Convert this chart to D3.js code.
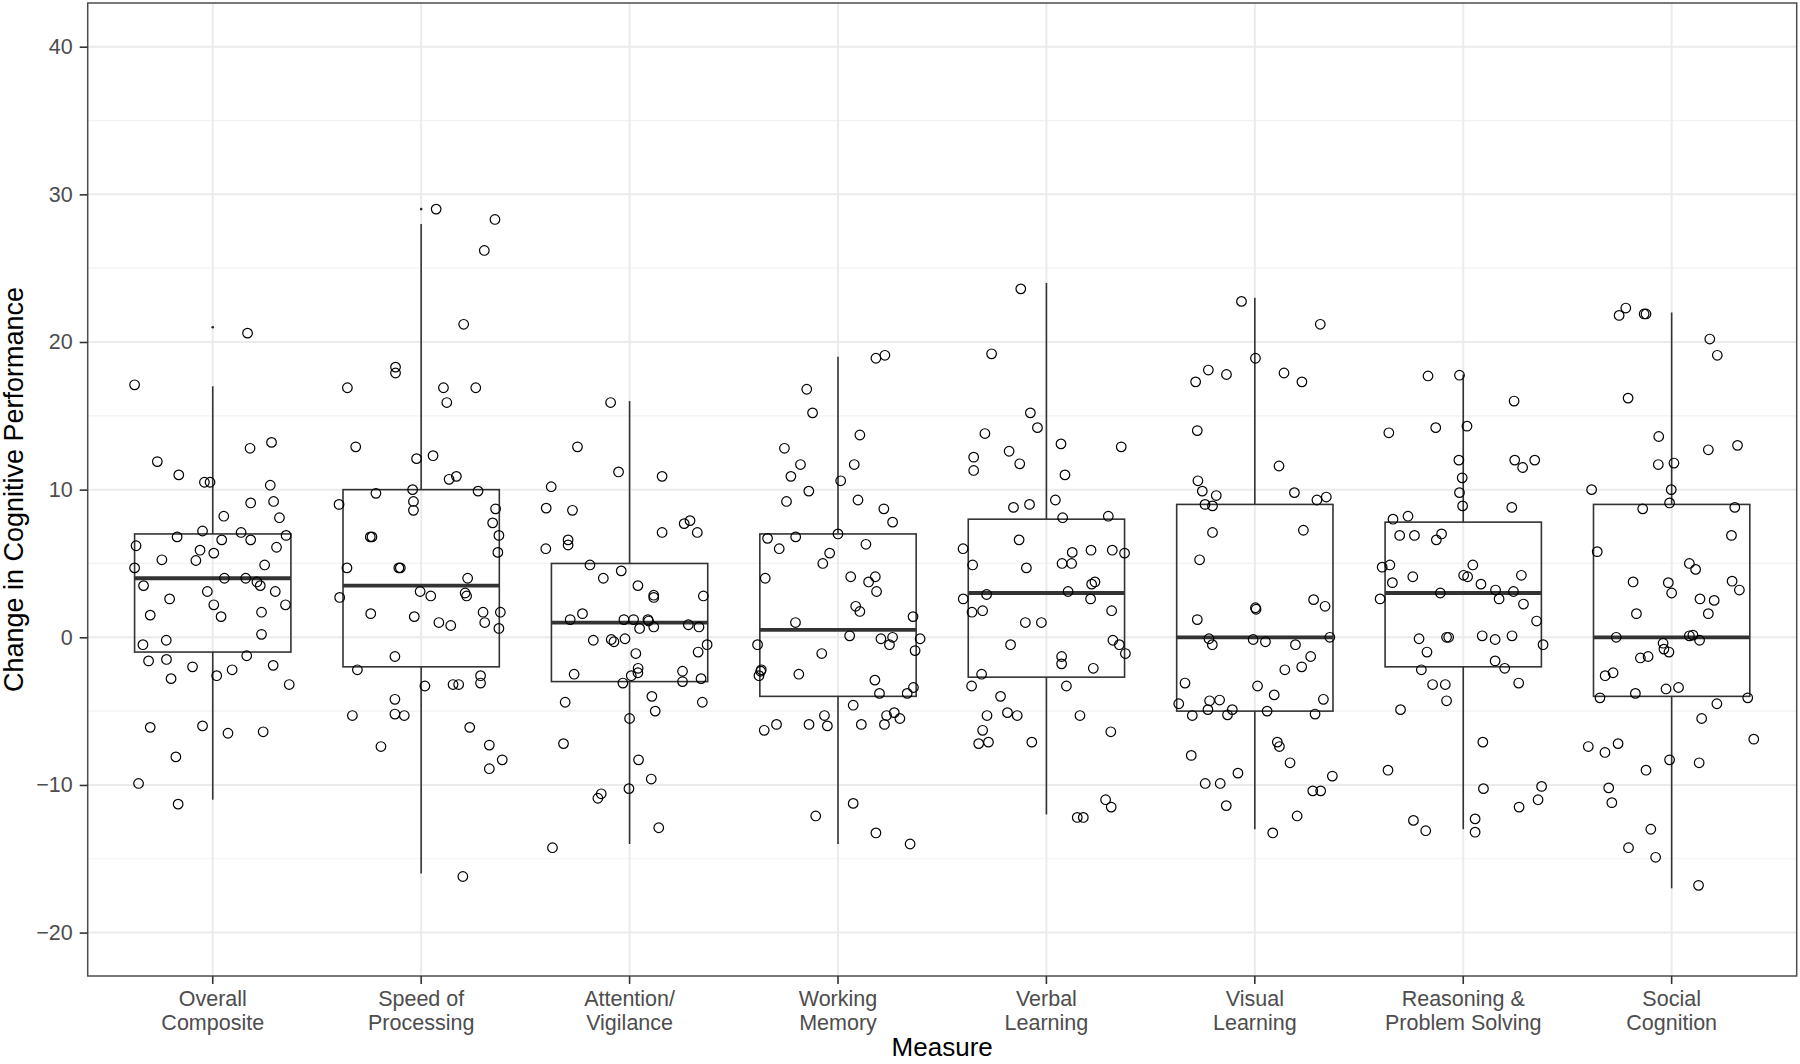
<!DOCTYPE html>
<html>
<head>
<meta charset="utf-8">
<script src="https://cdn.jsdelivr.net/npm/d3@7"></script>
<style>
  html, body { margin: 0; padding: 0; background: #ffffff; }
  svg { display: block; }
</style>
</head>
<body>
<svg id="chart" width="1800" height="1064"></svg>
<script>
// ---------- Data ----------
const categories = ["Overall Composite", "Speed of Processing", "Attention/Vigilance", "Working Memory",
  "Verbal Learning", "Visual Learning", "Reasoning & Problem Solving", "Social Cognition"];
const tickLabels = [["Overall", "Composite"], ["Speed of", "Processing"], ["Attention/", "Vigilance"],
  ["Working", "Memory"], ["Verbal", "Learning"], ["Visual", "Learning"],
  ["Reasoning &", "Problem Solving"], ["Social", "Cognition"]];
const yTicks = [-20, -10, 0, 10, 20, 30, 40];
const yMinor = [-15, -5, 5, 15, 25, 35];

// boxplot statistics
const q1 = [-1, -2, -3, -4, -2.7, -5, -2, -4];
const medians = [4, 3.5, 1, 0.5, 3, 0, 3, 0];
const q3 = [7, 10, 5, 7, 8, 9, 7.8, 9];
const whiskerLow = [-11, -16, -14, -14, -12, -13, -13, -17];
const whiskerHigh = [17, 28, 16, 19, 24, 23, 17.8, 22];
const outliers = [[21], [29], [], [], [], [], [], []];

// jittered points: [horizontal jitter (fraction of category step), value]
const overallComposite = [[0.167,20.6],[-0.375,17.1],[0.179,12.8],[0.282,13.2],[-0.266,11.9],[-0.163,11.0],[-0.04,10.5],[-0.013,10.5],[0.276,10.3],[0.182,9.1],[0.292,9.2],[0.053,8.2],[0.32,8.1],[-0.171,6.8],[-0.049,7.2],[0.043,6.6],[0.136,7.1],[0.182,6.6],[0.352,6.9],[-0.368,6.2],[-0.061,5.9],[0.005,5.7],[0.306,6.1],[-0.244,5.25],[-0.081,5.2],[-0.375,4.7],[0.249,4.9],[-0.332,3.5],[0.056,4.0],[0.158,4.0],[0.212,3.75],[0.228,3.5],[-0.207,2.6],[-0.026,3.1],[0.3,3.1],[0.005,2.2],[0.349,2.2],[-0.3,1.5],[0.04,1.4],[0.234,1.7],[0.234,0.2],[-0.335,-0.5],[-0.223,-0.2],[-0.308,-1.6],[-0.222,-1.5],[0.163,-1.25],[-0.2,-2.8],[-0.097,-2.0],[0.019,-2.6],[0.093,-2.2],[0.29,-1.9],[0.367,-3.2],[-0.3,-6.1],[-0.049,-6.0],[0.073,-6.5],[0.242,-6.4],[-0.177,-8.1],[-0.356,-9.9],[-0.166,-11.3]];
const speedOfProcessing = [[0.072,29.0],[0.354,28.3],[0.303,26.2],[0.204,21.2],[-0.123,18.3],[-0.123,17.9],[-0.354,16.9],[0.107,16.9],[0.262,16.9],[0.123,15.9],[-0.314,12.9],[-0.022,12.1],[0.057,12.3],[0.134,10.7],[0.169,10.9],[-0.394,9.0],[-0.217,9.75],[-0.041,10.0],[-0.037,9.2],[-0.037,8.6],[0.273,9.9],[0.357,8.7],[0.343,7.75],[0.373,6.9],[0.368,5.75],[-0.244,6.8],[-0.236,6.8],[-0.356,4.7],[-0.107,4.7],[-0.1,4.7],[0.223,4.0],[-0.391,2.7],[-0.005,3.1],[0.046,2.8],[0.211,3.0],[0.218,2.8],[-0.242,1.6],[-0.033,1.4],[0.085,1.0],[0.142,0.8],[0.297,1.7],[0.305,1.0],[0.38,1.7],[0.373,0.6],[-0.126,-1.3],[-0.306,-2.2],[0.018,-3.3],[0.153,-3.2],[0.18,-3.2],[0.285,-2.6],[0.285,-3.1],[-0.126,-4.2],[-0.33,-5.3],[-0.126,-5.2],[-0.081,-5.3],[0.233,-6.1],[-0.193,-7.4],[0.327,-7.3],[0.389,-8.3],[0.327,-8.9],[0.2,-16.2]];
const attentionVigilance = [[-0.091,15.9],[-0.25,12.9],[-0.053,11.2],[0.156,10.9],[-0.376,10.2],[-0.4,8.75],[-0.274,8.6],[-0.295,6.6],[-0.295,6.25],[-0.402,6.0],[0.156,7.1],[0.262,7.7],[0.29,7.9],[0.325,7.1],[-0.19,4.9],[-0.126,4.0],[-0.04,4.5],[0.04,3.5],[0.116,2.85],[0.116,2.7],[0.354,2.8],[-0.285,1.2],[-0.226,1.6],[-0.027,1.2],[0.019,1.2],[0.048,0.6],[0.088,1.2],[0.091,1.1],[0.116,0.7],[0.282,0.85],[0.333,0.7],[-0.174,-0.2],[-0.088,-0.15],[-0.075,-0.3],[-0.022,-0.1],[0.372,-0.5],[0.329,-1.0],[0.03,-1.1],[0.041,-2.1],[0.04,-2.4],[0.008,-2.6],[-0.266,-2.5],[-0.032,-3.1],[0.254,-2.3],[0.254,-3.0],[0.343,-2.8],[-0.309,-4.4],[0.107,-4.0],[0.123,-5.0],[0.349,-4.4],[0.0,-5.5],[-0.317,-7.2],[0.043,-8.3],[0.104,-9.6],[-0.136,-10.6],[-0.152,-10.9],[-0.003,-10.25],[0.14,-12.9],[-0.37,-14.25]];
const workingMemory = [[0.182,18.9],[0.225,19.1],[-0.15,16.8],[-0.122,15.2],[0.105,13.7],[-0.257,12.8],[-0.18,11.7],[0.078,11.7],[-0.226,10.9],[-0.14,9.9],[0.013,10.6],[-0.247,9.2],[0.096,9.3],[0.22,8.7],[0.262,7.8],[-0.338,6.7],[-0.203,6.8],[0.0,7.0],[-0.282,6.0],[0.134,6.3],[-0.04,5.7],[-0.073,5.0],[-0.349,4.0],[0.061,4.1],[0.147,3.75],[0.179,4.1],[0.185,3.1],[0.085,2.1],[0.105,1.75],[0.36,1.4],[-0.204,1.0],[0.056,0.1],[0.206,-0.1],[0.262,0.0],[0.247,-0.5],[0.394,-0.1],[-0.386,-0.5],[-0.078,-1.1],[0.37,-0.9],[-0.368,-2.2],[-0.379,-2.6],[-0.371,-2.3],[-0.188,-2.5],[0.177,-2.9],[0.199,-3.8],[0.332,-3.8],[0.362,-3.4],[0.073,-4.6],[-0.354,-6.3],[-0.295,-5.9],[-0.139,-5.9],[-0.065,-5.3],[-0.051,-6.0],[0.112,-5.9],[0.223,-5.9],[0.233,-5.3],[0.27,-5.1],[0.297,-5.5],[0.073,-11.25],[-0.107,-12.1],[0.182,-13.25],[0.346,-14.0]];
const verbalLearning = [[-0.123,23.6],[-0.263,19.2],[-0.077,15.2],[-0.043,14.2],[-0.295,13.8],[-0.179,12.6],[0.07,13.1],[0.359,12.9],[-0.349,12.2],[-0.349,11.3],[-0.128,11.75],[0.089,11.0],[-0.158,8.8],[-0.081,9.0],[0.043,9.3],[0.078,8.1],[0.297,8.2],[-0.4,6.0],[-0.131,6.6],[0.124,5.75],[0.214,5.9],[0.316,5.9],[0.375,5.7],[-0.354,4.9],[-0.096,4.7],[0.075,5.0],[0.121,5.0],[0.217,3.6],[0.233,3.75],[0.104,3.1],[-0.287,2.9],[-0.399,2.6],[0.212,2.6],[-0.357,1.7],[-0.306,1.8],[0.313,1.8],[-0.101,1.0],[-0.024,1.0],[0.319,-0.2],[-0.172,-0.5],[0.35,-0.5],[0.379,-1.1],[0.073,-1.3],[0.073,-1.8],[0.225,-2.1],[-0.311,-2.5],[-0.359,-3.3],[0.096,-3.3],[-0.22,-4.0],[-0.285,-5.3],[-0.187,-5.1],[-0.14,-5.3],[0.161,-5.3],[-0.306,-6.3],[-0.325,-7.2],[-0.278,-7.1],[-0.07,-7.1],[0.309,-6.4],[0.284,-11.0],[0.311,-11.5],[0.148,-12.2],[0.177,-12.2]];
const visualLearning = [[-0.064,22.75],[0.314,21.2],[0.003,18.9],[-0.223,18.1],[-0.136,17.8],[-0.284,17.3],[0.14,17.9],[0.226,17.3],[-0.276,14.0],[0.116,11.6],[-0.273,10.6],[-0.252,9.9],[-0.185,9.6],[-0.239,9.0],[-0.203,8.9],[0.19,9.8],[0.298,9.3],[0.343,9.5],[-0.203,7.1],[0.233,7.25],[-0.265,5.25],[0.282,2.55],[0.337,2.1],[0.003,2.0],[0.006,1.9],[-0.276,1.2],[-0.22,-0.1],[-0.204,-0.5],[-0.008,-0.15],[0.051,-0.3],[0.195,-0.5],[0.36,0.0],[0.268,-1.3],[0.225,-2.0],[0.144,-2.2],[-0.335,-3.1],[0.013,-3.3],[0.093,-3.9],[-0.365,-4.5],[-0.217,-4.3],[-0.169,-4.25],[-0.225,-4.9],[-0.108,-4.9],[-0.3,-5.3],[-0.131,-5.25],[0.059,-5.0],[0.289,-5.2],[0.329,-4.2],[0.108,-7.1],[0.118,-7.4],[0.169,-8.5],[-0.305,-8.0],[-0.081,-9.2],[-0.238,-9.9],[-0.166,-9.9],[0.278,-10.4],[0.316,-10.4],[0.372,-9.4],[-0.137,-11.4],[0.203,-12.1],[0.086,-13.25]];
const reasoningProblemSolving = [[-0.169,17.7],[-0.018,17.75],[0.244,16.0],[-0.357,13.85],[-0.132,14.2],[0.018,14.3],[-0.021,12.0],[-0.005,10.8],[-0.018,9.8],[-0.003,8.9],[0.247,12.0],[0.285,11.5],[0.343,12.0],[0.233,8.8],[-0.337,8.0],[-0.265,8.2],[-0.305,6.9],[-0.234,6.9],[-0.129,6.6],[-0.104,7.0],[-0.389,4.75],[-0.352,4.9],[-0.34,3.7],[-0.242,4.1],[0.046,4.9],[0.002,4.2],[0.021,4.1],[0.085,3.6],[0.155,3.2],[0.241,3.1],[0.279,4.2],[-0.399,2.6],[-0.11,3.0],[0.172,2.6],[0.289,2.25],[0.352,1.1],[-0.212,-0.1],[-0.174,-1.0],[-0.08,0.0],[-0.07,0.0],[0.091,0.1],[0.153,-0.15],[0.234,0.1],[0.383,-0.5],[0.153,-1.6],[0.199,-2.1],[-0.201,-2.2],[-0.147,-3.2],[-0.086,-3.2],[0.266,-3.1],[-0.08,-4.3],[-0.301,-4.9],[0.094,-7.1],[-0.361,-9.0],[0.097,-10.25],[0.376,-10.1],[0.359,-11.0],[0.268,-11.5],[-0.239,-12.4],[-0.18,-13.1],[0.057,-12.3],[0.057,-13.2]];
const socialCognition = [[-0.252,21.8],[-0.22,22.3],[-0.132,21.9],[-0.123,21.9],[0.183,20.2],[0.219,19.1],[-0.209,16.2],[-0.062,13.6],[0.176,12.7],[0.316,13.0],[-0.064,11.7],[0.011,11.8],[-0.384,10.0],[-0.002,10.0],[-0.01,9.1],[-0.139,8.7],[0.303,8.8],[0.287,6.9],[-0.357,5.8],[0.085,5.0],[0.115,4.6],[-0.185,3.75],[-0.016,3.7],[0.0,3.0],[0.29,3.8],[0.325,3.2],[0.136,2.6],[0.204,2.5],[-0.169,1.6],[0.176,1.6],[-0.266,0.0],[-0.041,-0.4],[-0.037,-0.8],[-0.013,-1.0],[0.085,0.1],[0.102,0.15],[0.134,-0.2],[-0.15,-1.4],[-0.113,-1.3],[-0.319,-2.6],[-0.281,-2.4],[-0.174,-3.8],[-0.344,-4.1],[-0.027,-3.5],[0.033,-3.4],[0.365,-4.1],[0.217,-4.5],[0.144,-5.5],[-0.4,-7.4],[-0.32,-7.8],[-0.257,-7.2],[-0.01,-8.3],[0.132,-8.5],[0.394,-6.9],[-0.123,-9.0],[-0.302,-10.2],[-0.287,-11.2],[-0.1,-13.0],[-0.207,-14.25],[-0.077,-14.9],[0.129,-16.8]];
const pointSets = [overallComposite, speedOfProcessing, attentionVigilance, workingMemory,
  verbalLearning, visualLearning, reasoningProblemSolving, socialCognition];

// ---------- Layout ----------
const panel = { left: 87.7, right: 1796.7, top: 3, bottom: 976 };
const svg = d3.select("#chart");
const font = "'Liberation Sans', Arial, Helvetica, sans-serif";

const x = d3.scaleBand().domain(categories).range([panel.left, panel.right])
  .paddingInner(0).paddingOuter(0.1);
const step = x.step();
const cx = c => x(c) + x.bandwidth() / 2;
const y = d3.scaleLinear().domain([-22.94, 42.96]).range([panel.bottom, panel.top]);

// background
svg.append("rect").attr("x", 0).attr("y", 0).attr("width", 1800).attr("height", 1064).attr("fill", "#ffffff");

// grid
const grid = svg.append("g");
grid.selectAll("line.minor").data(yMinor).join("line")
  .attr("x1", panel.left).attr("x2", panel.right)
  .attr("y1", d => y(d)).attr("y2", d => y(d))
  .attr("stroke", "#f2f2f2").attr("stroke-width", 1.2);
grid.selectAll("line.major").data(yTicks).join("line")
  .attr("x1", panel.left).attr("x2", panel.right)
  .attr("y1", d => y(d)).attr("y2", d => y(d))
  .attr("stroke", "#ebebeb").attr("stroke-width", 2);
grid.selectAll("line.vmajor").data(categories).join("line")
  .attr("x1", d => cx(d)).attr("x2", d => cx(d))
  .attr("y1", panel.top).attr("y2", panel.bottom)
  .attr("stroke", "#ebebeb").attr("stroke-width", 2);

// boxplots
const boxes = svg.append("g");
const bw = step * 0.75;
categories.forEach((c, i) => {
  const g = boxes.append("g");
  const xc = cx(c);
  g.append("line").attr("x1", xc).attr("x2", xc)
    .attr("y1", y(q3[i])).attr("y2", y(whiskerHigh[i]))
    .attr("stroke", "#333333").attr("stroke-width", 1.6);
  g.append("line").attr("x1", xc).attr("x2", xc)
    .attr("y1", y(q1[i])).attr("y2", y(whiskerLow[i]))
    .attr("stroke", "#333333").attr("stroke-width", 1.6);
  g.append("rect").attr("x", xc - bw / 2).attr("width", bw)
    .attr("y", y(q3[i])).attr("height", y(q1[i]) - y(q3[i]))
    .attr("fill", "none").attr("stroke", "#333333").attr("stroke-width", 1.6);
  g.append("line").attr("x1", xc - bw / 2).attr("x2", xc + bw / 2)
    .attr("y1", y(medians[i])).attr("y2", y(medians[i]))
    .attr("stroke", "#333333").attr("stroke-width", 3.8);
  g.selectAll("circle").data(outliers[i]).join("circle")
    .attr("cx", xc).attr("cy", d => y(d)).attr("r", 1.3).attr("fill", "#222222");
});

// jittered points
const pts = svg.append("g");
pointSets.forEach((set, i) => {
  const xc = cx(categories[i]);
  pts.append("g").selectAll("circle").data(set).join("circle")
    .attr("cx", d => xc + d[0] * step)
    .attr("cy", d => y(d[1]))
    .attr("r", 4.8)
    .attr("fill", "none")
    .attr("stroke", "#000000")
    .attr("stroke-width", 1.2);
});

// panel border
svg.append("rect").attr("x", panel.left).attr("y", panel.top)
  .attr("width", panel.right - panel.left).attr("height", panel.bottom - panel.top)
  .attr("fill", "none").attr("stroke", "#4d4d4d").attr("stroke-width", 1.5);

// y axis
const yAxis = svg.append("g").attr("transform", `translate(${panel.left},0)`)
  .call(d3.axisLeft(y).tickValues(yTicks).tickSize(8).tickPadding(7).tickFormat(d => d < 0 ? "\u2212" + Math.abs(d) : d));
yAxis.select(".domain").remove();
yAxis.selectAll(".tick line").attr("stroke", "#333333").attr("stroke-width", 1.6);
yAxis.selectAll(".tick text").attr("fill", "#4d4d4d").style("font-family", font).style("font-size", "21.5px");

// x axis
const xAxis = svg.append("g").attr("transform", `translate(0,${panel.bottom})`)
  .call(d3.axisBottom(x).tickSize(8).tickFormat(""));
xAxis.select(".domain").remove();
xAxis.selectAll(".tick line").attr("stroke", "#333333").attr("stroke-width", 1.6);
xAxis.selectAll(".tick").each(function (d, i) {
  const t = d3.select(this).append("text")
    .attr("fill", "#4d4d4d").attr("text-anchor", "middle")
    .style("font-family", font).style("font-size", "21.5px");
  tickLabels[i].forEach((line, k) => {
    t.append("tspan").attr("x", 0).attr("y", 30 + k * 23.7).text(line);
  });
});

// axis titles
svg.append("text").attr("x", (panel.left + panel.right) / 2).attr("y", 1056)
  .attr("text-anchor", "middle").attr("fill", "#000000")
  .style("font-family", font).style("font-size", "26px").text("Measure");
svg.append("text").attr("transform", `translate(23,${(panel.top + panel.bottom) / 2}) rotate(-90)`)
  .attr("text-anchor", "middle").attr("fill", "#000000")
  .style("font-family", font).style("font-size", "27px").text("Change in Cognitive Performance");
</script>
</body>
</html>
